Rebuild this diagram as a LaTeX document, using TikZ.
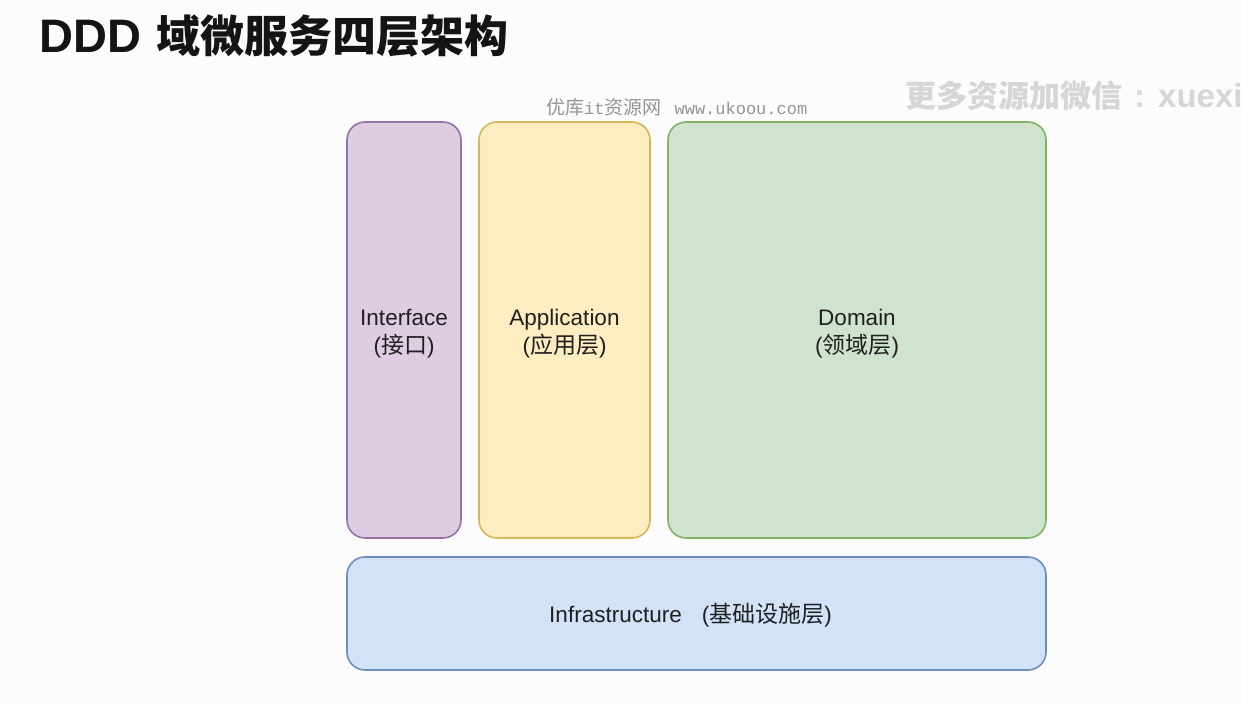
\documentclass[tikz,border=0pt]{standalone}
\usepackage{fontspec}
\setmainfont{Liberation Sans}
\newfontfamily\cjk{Noto Sans CJK SC}
\newfontfamily\monofont{Liberation Mono}
\definecolor{ifacefill}{HTML}{DDCCE2}
\definecolor{ifacedraw}{HTML}{9673A6}
\definecolor{appfill}{HTML}{FDEDC0}
\definecolor{appdraw}{HTML}{D6B656}
\definecolor{domfill}{HTML}{D0E3CE}
\definecolor{domdraw}{HTML}{82B366}
\definecolor{infrafill}{HTML}{D2E3F8}
\definecolor{infradraw}{HTML}{6C8EBF}
\newcommand{\zh}[1]{{\cjk\fontsize{23}{28}\selectfont #1}}

\begin{document}
\begin{tikzpicture}[x=1pt, y=-1pt,
    layer/.style={rectangle, rounded corners=18pt, line width=1.6pt},
    layertext/.style={align=center, inner sep=0pt, text=black!88,
      font=\fontsize{22.5}{28}\selectfont},
    mark1/.style={text=black!42, font=\fontsize{19}{20}\selectfont},
    mark2/.style={text=black!16, font=\bfseries\fontsize{33}{34}\selectfont}]
  \fill[white!99!black] (0,0) rectangle (1241,704);
  \useasboundingbox (0,0) rectangle (1241,704);
  % title and watermarks
  \node[anchor=base west, inner sep=0pt, text=black!92] (title) at (39.5,52)
    {\bfseries\fontsize{47}{48}\selectfont DDD\hspace{15pt}{\cjk\fontsize{44}{48}\selectfont 域微服务四层架构}};
  \node[mark1, anchor=base west, inner sep=0pt] (site) at (546,114)
    {{\cjk 优库}{\monofont\fontsize{17}{18}\selectfont it}{\cjk 资源网}\hspace{13pt}{\monofont\fontsize{17}{18}\selectfont www.ukoou.com}};
  \node[mark2, anchor=base west, inner sep=0pt] (wechat) at (905,107)
    {{\cjk\fontsize{31}{34}\selectfont 更多资源加微信}\hspace{12pt}:\hspace{13pt}xuexi};
  % the four layers
  \node[layer, fill=ifacefill, draw=ifacedraw, minimum width=114pt, minimum height=416pt]
    (iface) at (404,330) {};
  \node[layer, fill=appfill, draw=appdraw, minimum width=171pt, minimum height=416pt]
    (app) at (564.5,330) {};
  \node[layer, fill=domfill, draw=domdraw, minimum width=378pt, minimum height=416pt]
    (dom) at (857,330) {};
  \node[layer, fill=infrafill, draw=infradraw, minimum width=699pt, minimum height=113pt]
    (infra) at (696.5,613.5) {};
  % layer names
  \node[layertext, yshift=-4pt] (ifacetext) at (iface.center) {Interface\\(\zh{接口})};
  \node[layertext, yshift=-4pt] (apptext) at (app.center) {Application\\(\zh{应用层})};
  \node[layertext, yshift=-4pt] (domtext) at (dom.center) {Domain\\(\zh{领域层})};
  \node[layertext, yshift=-1.5pt, xshift=-6pt] (infratext) at (infra.center)
    {Infrastructure\hspace{20pt}(\zh{基础设施层})};
\end{tikzpicture}
\end{document}
